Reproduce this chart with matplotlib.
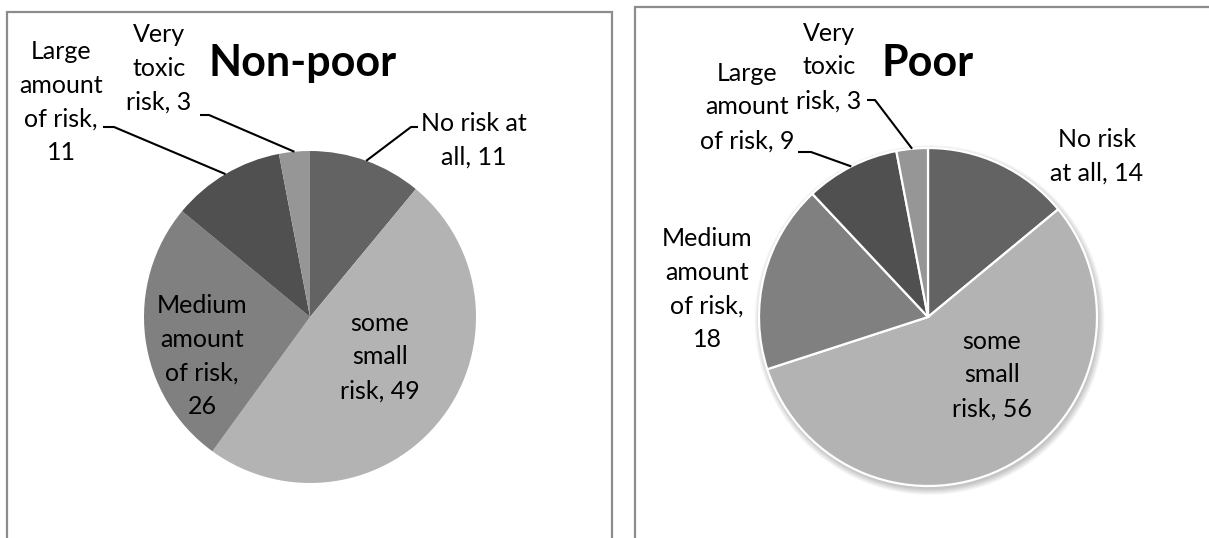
import numpy as np
import matplotlib.pyplot as plt
from matplotlib.patches import Rectangle, Circle

# risk categories, in clockwise order starting at 12 o'clock
categories = ['No risk at all', 'some small risk', 'Medium amount of risk',
              'Large amount of risk', 'Very toxic risk']
nonpoor = [11, 49, 26, 11, 3]
poor = [14, 56, 18, 9, 3]

label_nonpoor = ['No risk at\nall, {}', 'some\nsmall\nrisk, {}', 'Medium\namount\nof risk,\n{}',
                 'Large\namount\nof risk,\n{}', 'Very\ntoxic\nrisk, {}']
label_poor = ['No risk\nat all, {}', 'some\nsmall\nrisk, {}', 'Medium\namount\nof risk,\n{}',
              'Large\namount\nof risk, {}', 'Very\ntoxic\nrisk, {}']

colors = ['#636363', '#b3b3b3', '#808080', '#505050', '#969696']

W, H = 1209, 538
plt.rcParams['font.family'] = ['Lato', 'DejaVu Sans']


def fy(y):
    # layout is worked out top-down in pixels
    return H - y


def edge_point(wedge, cx, cy, r):
    mid = np.deg2rad((wedge.theta1 + wedge.theta2) / 2)
    return cx + r * np.cos(mid), cy + r * np.sin(mid)


def draw_panel(ax, values, fmt, title, center, radius, box, title_pos, label_pos, leaders,
               shadow=False):
    x0, y0, x1, y1 = box
    ax.add_patch(Rectangle((x0, fy(y1)), x1 - x0, y1 - y0, fill=False,
                           edgecolor='#8c8c8c', linewidth=1.6, zorder=0))
    cx, cy = center[0], fy(center[1])
    if shadow:
        for k in range(10):
            ax.add_patch(Circle((cx + 1.5, cy - 3), radius + 6 - k * 0.7,
                                color='k', alpha=0.025, linewidth=0, zorder=1))
    edge = dict(edgecolor='white', linewidth=1.6) if shadow else dict(linewidth=0)
    wedges, _ = ax.pie(values, colors=colors, startangle=90, counterclock=False,
                       center=(cx, cy), radius=radius, wedgeprops=edge, frame=True)
    for w in wedges:
        w.set_zorder(2)

    ax.text(title_pos[0], fy(title_pos[1]), title, fontsize=31, fontweight='bold',
            ha='center', va='center', zorder=5)

    for i, v in enumerate(values):
        lx, ly = label_pos[i]
        ax.text(lx, fy(ly), fmt[i].format(v), fontsize=18, ha='center', va='center',
                multialignment='center', linespacing=1.57, zorder=5)

    # leader lines: short horizontal stub, then straight to the wedge rim
    for i, (sx, sy, dx) in leaders.items():
        ex, ey = edge_point(wedges[i], cx, cy, radius)
        ax.plot([sx, sx + dx, ex], [fy(sy), fy(sy), ey], color='black',
                linewidth=1.5, solid_capstyle='butt', zorder=4)


fig = plt.figure(figsize=(W / 100, H / 100), dpi=100)
ax = fig.add_axes([0, 0, 1, 1])

draw_panel(ax, nonpoor, label_nonpoor, 'Non-poor',
           center=(310, 317), radius=166, box=(7, 12, 612, 560),
           title_pos=(303, 63),
           label_pos=[(474, 140), (380, 357), (202, 356), (61, 102), (159, 68)],
           leaders={0: (418, 127, -7), 4: (200, 115, 9), 3: (103, 127, 11)})

draw_panel(ax, poor, label_poor, 'Poor',
           center=(928, 317), radius=169, box=(635, 7, 1240, 560),
           title_pos=(928, 63),
           label_pos=[(1097, 156), (992, 375), (707, 289), (747, 107), (829, 67)],
           leaders={4: (867, 100, 8), 3: (798, 152, 13)},
           shadow=True)

ax.set_xlim(0, W)
ax.set_ylim(0, H)
ax.set_aspect('auto')
ax.axis('off')

fig.savefig('out.png', dpi=100)
